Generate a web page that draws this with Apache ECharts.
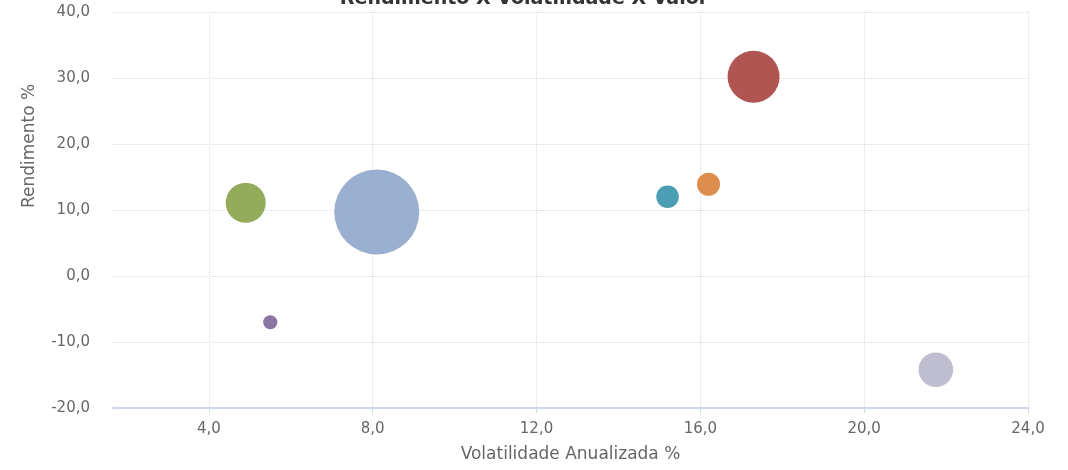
<!DOCTYPE html>
<html>
<head>
<meta charset="utf-8">
<script src="https://cdn.jsdelivr.net/npm/echarts@6/dist/echarts.min.js"></script>
<style>
  html, body { margin: 0; padding: 0; background: #fff; }
  #grafico { width: 1068px; height: 470px; }
</style>
</head>
<body>
<div id="grafico"></div>
<script>
// Dados
var volatilidade = [8.1, 17.3, 4.9, 5.5, 15.2, 16.2, 21.75];
var rendimento = [9.7, 30.2, 11.1, -7.0, 12.0, 13.9, -14.2];
var valor = [72.3, 27.0, 16.0, 2.0, 5.1, 5.3, 12.0]; // tamanho da bolha
var ticksX = [4, 8, 12, 16, 20, 24];
var cores = ['#92A8CD', '#AA4643', '#89A54E', '#80699B', '#3D96AE', '#DB843D', '#b8b9cc'];

function virgula(v) {
  return v.toFixed(1).replace('.', ',');
}

var pontos = volatilidade.map(function (x, i) {
  return {
    value: [x, rendimento[i], valor[i]],
    itemStyle: { color: cores[i], opacity: 0.92 }
  };
});

var chart = echarts.init(document.getElementById('grafico'));

chart.setOption({
  animation: false,
  grid: { left: 113, right: 40, top: 12, bottom: 62 },
  graphic: [
    {
      type: 'text', x: 524, y: -10,
      style: { text: 'Rendimento X Volatilidade X Valor', fontSize: 19, fontWeight: 'bold', fill: '#333', fontFamily: 'DejaVu Sans', align: 'center', verticalAlign: 'top' }
    },
    {
      type: 'text', x: 30, y: 146, rotation: Math.PI / 2,
      style: { text: 'Rendimento %', fontSize: 17, fill: '#666', fontFamily: 'DejaVu Sans', align: 'center', verticalAlign: 'middle' }
    }
  ],
  xAxis: {
    type: 'value',
    min: 1.66,
    max: 24,
    name: 'Volatilidade Anualizada %',
    nameLocation: 'middle',
    nameGap: 38,
    nameTextStyle: { fontSize: 17, color: '#666', fontFamily: 'DejaVu Sans' },
    axisLine: { show: true, onZero: false, lineStyle: { color: '#ccd6eb', width: 2 } },
    axisTick: { show: true, length: 5, customValues: ticksX, lineStyle: { color: '#ccd6eb' } },
    axisLabel: { customValues: ticksX, formatter: virgula, fontSize: 15, color: '#666', margin: 14, fontFamily: 'DejaVu Sans' },
    splitLine: { show: true, lineStyle: { color: '#dcdcdc', type: 'dotted' } }
  },
  yAxis: {
    type: 'value',
    min: -20,
    max: 40,
    interval: 10,
    axisLine: { show: false },
    axisTick: { show: false },
    axisLabel: { formatter: virgula, fontSize: 15, color: '#666', margin: 23, padding: [6, 0, 0, 0], fontFamily: 'DejaVu Sans' },
    splitLine: { show: true, lineStyle: { color: '#dcdcdc', type: 'dotted' } }
  },
  series: [{
    type: 'scatter',
    data: pontos,
    symbolSize: function (d) { return 10 * Math.sqrt(d[2]); },
    emphasis: { disabled: true }
  }]
});
</script>
</body>
</html>
